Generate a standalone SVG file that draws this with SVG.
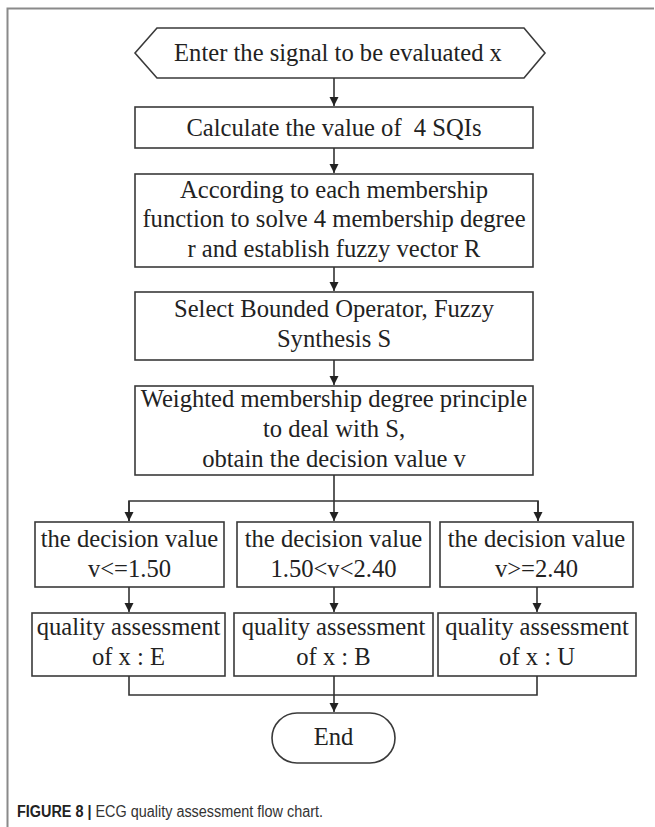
<svg xmlns="http://www.w3.org/2000/svg" width="655" height="827" viewBox="0 0 655 827">
<style>
.box{fill:#fff;stroke:#3a3a3a;stroke-width:1.6}
.t{font-family:"Liberation Serif","Times New Roman",serif;font-size:24.6px;fill:#222;text-anchor:middle;white-space:pre}
.c{fill:none;stroke:#333;stroke-width:1.6}
.frame{stroke:#8a8a8a;stroke-width:2;fill:none}
</style>
<defs>
<marker id="ah" markerWidth="10" markerHeight="10" refX="9" refY="5" orient="auto" markerUnits="userSpaceOnUse">
<path d="M0,0.5 L9,5 L0,9.5 Z" fill="#222"/>
</marker>
</defs>
<rect width="655" height="827" fill="#fff"/>
<path class="frame" d="M7.5,827 V8.5 H654"/>

<g id="start">
<polygon class="box" points="135,53 157,28 524,28 545,53 524,78 157,78"/>
<text class="t" x="338" y="61">Enter the signal to be evaluated x</text>
</g>
<g id="calc">
<rect class="box" x="135" y="107" width="398" height="41"/>
<text class="t" x="334" y="136" xml:space="preserve">Calculate the value of  4 SQIs</text>
</g>
<g id="membership">
<rect class="box" x="135" y="174" width="398" height="93"/>
<text class="t" x="334" y="198">According to each membership</text>
<text class="t" x="334" y="227">function to solve 4 membership degree</text>
<text class="t" x="334" y="257">r and establish fuzzy vector R</text>
</g>
<g id="synthesis">
<rect class="box" x="135" y="292" width="398" height="68"/>
<text class="t" x="334" y="317">Select Bounded Operator, Fuzzy</text>
<text class="t" x="334" y="347">Synthesis S</text>
</g>
<g id="weighted">
<rect class="box" x="135" y="386" width="398" height="89"/>
<text class="t" x="334" y="407">Weighted membership degree principle</text>
<text class="t" x="334" y="437">to deal with S,</text>
<text class="t" x="334" y="467">obtain the decision value v</text>
</g>
<g id="dec1">
<rect class="box" x="35" y="522" width="189" height="65"/>
<text class="t" x="129.5" y="547">the decision value</text>
<text class="t" x="129.5" y="577">v&lt;=1.50</text>
</g>
<g id="dec2">
<rect class="box" x="237" y="522" width="193" height="65"/>
<text class="t" x="333.5" y="547">the decision value</text>
<text class="t" x="333.5" y="577">1.50&lt;v&lt;2.40</text>
</g>
<g id="dec3">
<rect class="box" x="440" y="522" width="193" height="65"/>
<text class="t" x="536.5" y="547">the decision value</text>
<text class="t" x="536.5" y="577">v&gt;=2.40</text>
</g>
<g id="q1">
<rect class="box" x="32" y="613" width="193" height="63"/>
<text class="t" x="128.5" y="635">quality assessment</text>
<text class="t" x="128.5" y="665">of x : E</text>
</g>
<g id="q2">
<rect class="box" x="234" y="613" width="199" height="63"/>
<text class="t" x="333.5" y="635">quality assessment</text>
<text class="t" x="333.5" y="665">of x : B</text>
</g>
<g id="q3">
<rect class="box" x="438" y="613" width="198" height="63"/>
<text class="t" x="537" y="635">quality assessment</text>
<text class="t" x="537" y="665">of x : U</text>
</g>
<g id="end">
<rect class="box" x="272" y="713" width="123" height="50" rx="25" ry="25"/>
<text class="t" x="333.5" y="745">End</text>
</g>

<g id="connectors">
<line class="c" x1="334" y1="78" x2="334" y2="106" marker-end="url(#ah)"/>
<line class="c" x1="334" y1="148" x2="334" y2="173" marker-end="url(#ah)"/>
<line class="c" x1="334" y1="267" x2="334" y2="291" marker-end="url(#ah)"/>
<line class="c" x1="334" y1="360" x2="334" y2="385" marker-end="url(#ah)"/>
<line class="c" x1="334" y1="475" x2="334" y2="521" marker-end="url(#ah)"/>
<polyline class="c" points="129,521 129,501 538,501 538,521"/>
<line class="c" x1="129" y1="501" x2="129" y2="521" marker-end="url(#ah)"/>
<line class="c" x1="538" y1="501" x2="538" y2="521" marker-end="url(#ah)"/>
<line class="c" x1="129" y1="587" x2="129" y2="612" marker-end="url(#ah)"/>
<line class="c" x1="334" y1="587" x2="334" y2="612" marker-end="url(#ah)"/>
<line class="c" x1="537" y1="587" x2="537" y2="612" marker-end="url(#ah)"/>
<polyline class="c" points="129,676 129,695 537,695 537,676"/>
<line class="c" x1="334" y1="676" x2="334" y2="712" marker-end="url(#ah)"/>
</g>

<text x="17" y="817" textLength="306" lengthAdjust="spacingAndGlyphs" style="font-family:'Liberation Sans',Arial,sans-serif;font-size:16px;fill:#333"><tspan font-weight="bold" fill="#222">FIGURE 8 | </tspan>ECG quality assessment flow chart.</text>
</svg>
